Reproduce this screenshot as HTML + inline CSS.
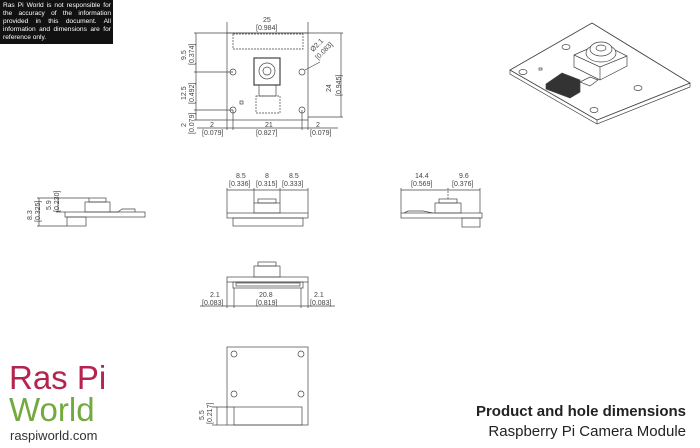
<!DOCTYPE html>
<html><head><meta charset="utf-8"><style>
body{margin:0;background:#fff;width:700px;height:448px;overflow:hidden;position:relative;font-family:"Liberation Sans",sans-serif}
.disc{position:absolute;left:0;top:0;width:108px;height:41px;background:#111;color:#fff;font-size:6.6px;line-height:7.9px;padding:2px 2px 1px 3px;text-align:justify}
svg text{font-family:"Liberation Sans",sans-serif;fill:#444}
</style></head><body>
<svg width="700" height="448" style="position:absolute;left:0;top:0" stroke="#444" stroke-width="0.7" fill="none">
<rect x="227" y="33" width="81" height="87"/>
<rect x="233" y="34" width="70" height="15" stroke-dasharray="2,1"/>
<rect x="254" y="58" width="26" height="27" stroke-width="1.2"/>
<circle cx="267" cy="71" r="8"/><circle cx="267" cy="71" r="4"/>
<rect x="259" y="85" width="17" height="11"/>
<rect x="256" y="96" width="24" height="17" stroke-dasharray="2,1"/>
<rect x="240" y="101" width="3" height="3"/>
<circle cx="233" cy="72" r="3"/><circle cx="302" cy="72" r="3"/>
<circle cx="233" cy="110" r="3"/><circle cx="302" cy="110" r="3"/>
<line x1="227" y1="33" x2="227" y2="22"/><line x1="308" y1="33" x2="308" y2="22"/>
<line x1="227" y1="33" x2="308" y2="33"/>
<line x1="194" y1="33" x2="227" y2="33"/><line x1="194" y1="72" x2="233" y2="72"/><line x1="194" y1="110" x2="233" y2="110"/><line x1="194" y1="120" x2="227" y2="120"/>
<line x1="196" y1="33" x2="196" y2="120"/>
<line x1="308" y1="33" x2="343" y2="33"/><line x1="308" y1="117" x2="343" y2="117"/><line x1="341" y1="33" x2="341" y2="117"/>
<line x1="305" y1="70" x2="320" y2="62"/>
<line x1="233" y1="110" x2="233" y2="130"/><line x1="302" y1="110" x2="302" y2="130"/>
<line x1="227" y1="120" x2="227" y2="130"/><line x1="308" y1="120" x2="308" y2="130"/>
<line x1="197" y1="128" x2="338" y2="128"/>
<rect x="65" y="212" width="80" height="5"/>
<rect x="67" y="217" width="19" height="9"/>
<rect x="85" y="202" width="25" height="10"/><rect x="89" y="198" width="17" height="4"/>
<path d="M110 212 L118 212 L122 209 L135 209 L135 212"/>
<line x1="37" y1="198" x2="89" y2="198"/><line x1="37" y1="226" x2="67" y2="226"/><line x1="56" y1="212" x2="65" y2="212"/>
<line x1="39" y1="198" x2="39" y2="226"/><line x1="58" y1="198" x2="58" y2="212"/>
<rect x="227" y="213" width="81" height="5"/>
<rect x="233" y="218" width="70" height="8"/>
<rect x="254" y="203" width="26" height="10"/><rect x="258" y="199" width="18" height="4"/>
<line x1="227" y1="213" x2="227" y2="188"/><line x1="254" y1="203" x2="254" y2="188"/><line x1="280" y1="203" x2="280" y2="188"/><line x1="308" y1="213" x2="308" y2="188"/>
<line x1="227" y1="190" x2="308" y2="190"/>
<rect x="401" y="213" width="81" height="5"/>
<rect x="462" y="218" width="18" height="9"/>
<rect x="435" y="203" width="26" height="10"/><rect x="439" y="199" width="18" height="4"/>
<path d="M404 213 L408 211 L423 211 L433 213"/>
<line x1="401" y1="213" x2="401" y2="188"/><line x1="448" y1="199" x2="448" y2="188" stroke-dasharray="2,1"/><line x1="480" y1="213" x2="480" y2="188"/>
<line x1="401" y1="190" x2="480" y2="190"/>
<rect x="254" y="266" width="26" height="11"/><rect x="258" y="262" width="18" height="4"/>
<rect x="227" y="277" width="81" height="5"/>
<rect x="233" y="282" width="70" height="6"/><rect x="236" y="283" width="64" height="3"/>
<line x1="227" y1="282" x2="227" y2="308"/><line x1="234" y1="288" x2="234" y2="308"/><line x1="301" y1="288" x2="301" y2="308"/><line x1="308" y1="282" x2="308" y2="308"/>
<line x1="200" y1="306" x2="335" y2="306"/>
<rect x="227" y="347" width="81" height="78"/>
<circle cx="234" cy="354" r="3"/><circle cx="301" cy="354" r="3"/>
<circle cx="234" cy="394" r="3"/><circle cx="301" cy="394" r="3"/>
<rect x="234" y="407" width="68" height="18"/>
<line x1="212" y1="407" x2="234" y2="407"/><line x1="212" y1="425" x2="227" y2="425"/><line x1="217" y1="407" x2="217" y2="425"/>
<path d="M592 23 L510 70 L597 120 L690 83 Z" stroke-width="0.9"/>
<path d="M510 70 L510 74 L597 124 L690 87 L690 83 M597 120 L597 124"/>
<ellipse cx="566" cy="47" rx="4" ry="2.5"/><ellipse cx="523" cy="72" rx="4" ry="2.5"/><ellipse cx="638" cy="88" rx="4" ry="2.5"/><ellipse cx="594" cy="110" rx="4" ry="2.5"/>
<path d="M546 84 L562 73 L580 80 L580 92 L570 98 L546 89 Z" fill="#333"/>
<path d="M580 82 L590 77 L598 80 L590 86 Z" fill="#fff"/>
<path d="M574 55 L601 43 L627 56 L627 66 L600 80 L574 67 Z" fill="#fff"/>
<path d="M574 55 L600 67 L627 56 M600 67 L600 80"/>
<ellipse cx="601" cy="53" rx="15" ry="9" fill="#fff"/><ellipse cx="601" cy="49" rx="11" ry="7" fill="#fff"/><ellipse cx="601" cy="48" rx="5" ry="3"/>
<rect x="539" y="68" width="3" height="2"/>
</svg>
<svg width="700" height="448" style="position:absolute;left:0;top:0;font-size:7px">
<text x="263" y="22" font-size="7">25</text><text x="256" y="30" font-size="7">[0.984]</text>
<text x="313" y="52" font-size="7" transform="rotate(-45 313 52)">Ø2.1</text><text x="318" y="60" font-size="7" transform="rotate(-45 318 60)">[0.083]</text>
<text x="331" y="92" font-size="7" transform="rotate(-90 331 92)">24</text><text x="341" y="96" font-size="7" transform="rotate(-90 341 96)">[0.945]</text>
<text x="186" y="60" transform="rotate(-90 186 60)">9.5</text><text x="194" y="65" transform="rotate(-90 194 65)">[0.374]</text>
<text x="186" y="100" transform="rotate(-90 186 100)">12.5</text><text x="194" y="104" transform="rotate(-90 194 104)">[0.492]</text>
<text x="186" y="127" transform="rotate(-90 186 127)">2</text><text x="194" y="134" transform="rotate(-90 194 134)">[0.079]</text>
<text x="210" y="127">2</text><text x="202" y="135">[0.079]</text>
<text x="265" y="127">21</text><text x="256" y="135">[0.827]</text>
<text x="316" y="127">2</text><text x="310" y="135">[0.079]</text>
<text x="32" y="220" transform="rotate(-90 32 220)">8.3</text><text x="40" y="222" transform="rotate(-90 40 222)">[0.325]</text>
<text x="51" y="210" transform="rotate(-90 51 210)">5.9</text><text x="59" y="212" transform="rotate(-90 59 212)">[0.230]</text>
<text x="236" y="178">8.5</text><text x="229" y="186">[0.336]</text>
<text x="265" y="178">8</text><text x="256" y="186">[0.315]</text>
<text x="289" y="178">8.5</text><text x="282" y="186">[0.333]</text>
<text x="415" y="178">14.4</text><text x="411" y="186">[0.569]</text>
<text x="459" y="178">9.6</text><text x="452" y="186">[0.376]</text>
<text x="210" y="297">2.1</text><text x="202" y="305">[0.083]</text>
<text x="259" y="297">20.8</text><text x="256" y="305">[0.819]</text>
<text x="314" y="297">2.1</text><text x="310" y="305">[0.083]</text>
<text x="204" y="420" transform="rotate(-90 204 420)">5.5</text><text x="212" y="424" transform="rotate(-90 212 424)">[0.217]</text>
</svg>
<div class="disc">Ras Pi World is not responsible for the accuracy of the information provided in this document. All information and dimensions are for reference only.</div>
<div style="position:absolute;left:9px;top:362px;font-size:33px;line-height:32px;color:#b5234f">Ras Pi</div>
<div style="position:absolute;left:9px;top:394px;font-size:33px;line-height:32px;color:#73aa3f">World</div>
<div style="position:absolute;left:10px;top:428px;font-size:13px;color:#333">raspiworld.com</div>
<div style="position:absolute;right:14px;top:403px;font-size:15px;font-weight:bold;color:#222">Product and hole dimensions</div>
<div style="position:absolute;right:14px;top:423px;font-size:15px;color:#222">Raspberry Pi Camera Module</div>
</body></html>
